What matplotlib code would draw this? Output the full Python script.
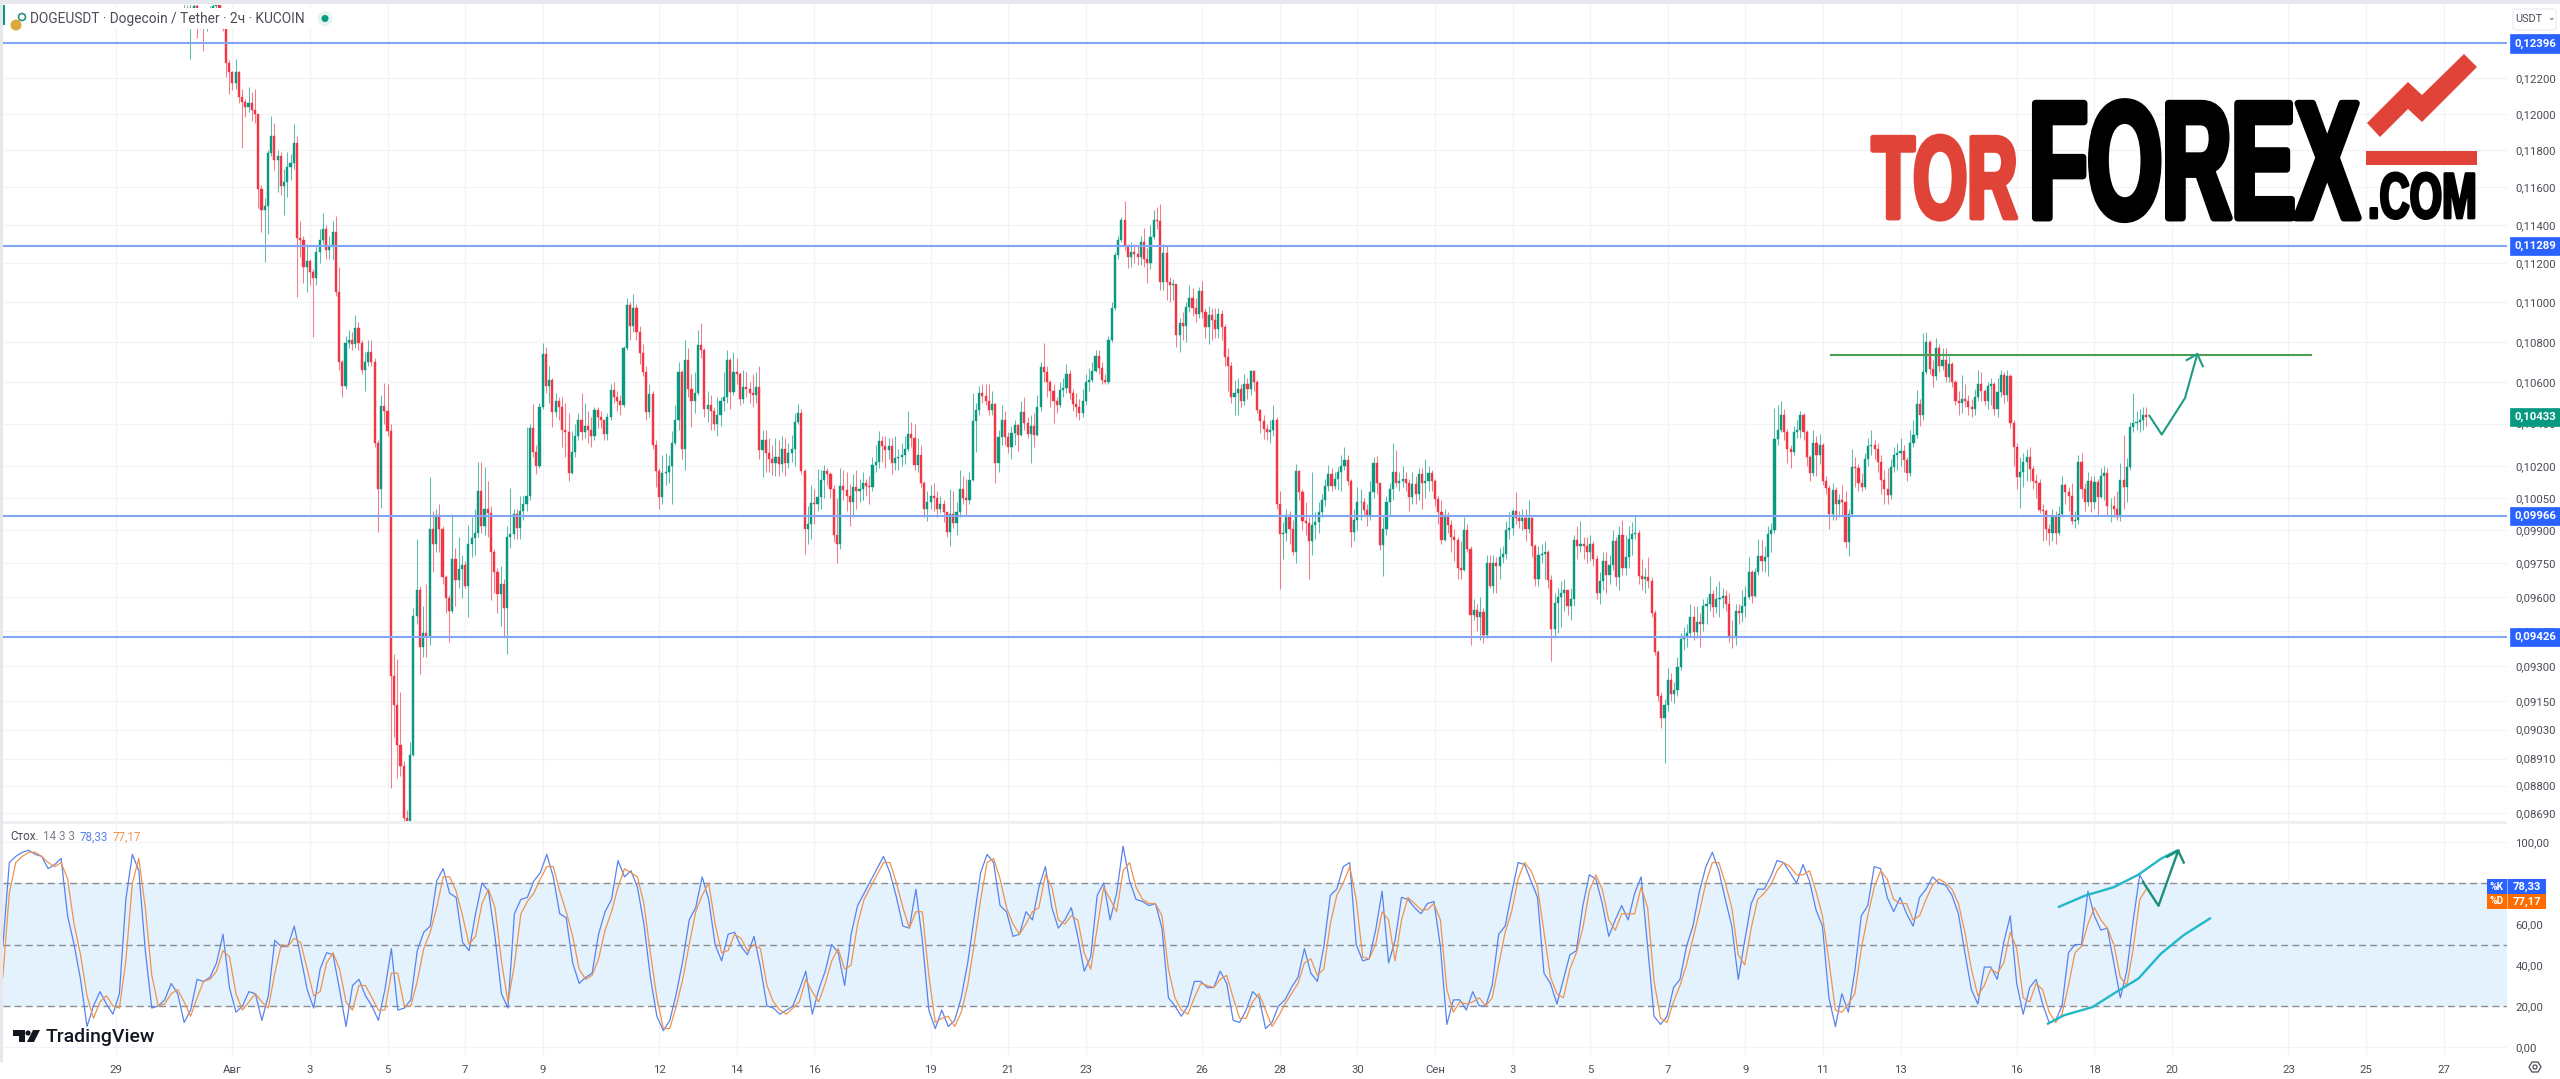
import numpy as np
import matplotlib
matplotlib.use("Agg")
import matplotlib.pyplot as plt
from matplotlib.patches import Rectangle, Polygon, Circle, FancyBboxPatch
from matplotlib.patheffects import AbstractPathEffect
from matplotlib.ticker import NullLocator
from matplotlib.transforms import Affine2D

plt.rcParams['font.family'] = ['Roboto', 'DejaVu Sans']

# prices in 1e-5 USDT, one value per 2h candle, first candle is number 21 from 29 Jul 00:00
first_candle = 21
first_open = 12560
closes = [
    12580,12540,12600,12610,12570,12550,12500,12530,12560,12610,
    12630,12590,12480,12285,12235,12170,12235,12095,12065,12035,
    12060,12020,12000,11590,11480,11500,11785,11880,11745,11770,
    11605,11630,11710,11730,11840,11330,11320,11180,11210,11155,
    11125,11260,11320,11380,11270,11290,11360,11050,10700,10585,
    10795,10810,10790,10870,10795,10660,10700,10750,10700,10310,
    10090,10485,10460,10365,9255,9135,8965,8880,8670,8640,
    8925,9518,9630,9380,9440,9425,9905,9840,9970,9905,
    9690,9595,9540,9770,9675,9725,9745,9650,9840,9865,
    9890,10080,9920,10000,9980,9800,9710,9615,9660,9550,
    9870,9885,9975,9910,9990,10020,10060,10380,10265,10200,
    10480,10740,10585,10610,10455,10510,10480,10370,10360,10165,
    10265,10340,10420,10360,10390,10370,10340,10465,10430,10420,
    10350,10430,10565,10530,10510,10490,10770,10985,10880,10970,
    10850,10745,10650,10455,10545,10300,10175,10055,10165,10170,
    10200,10310,10420,10650,10280,10710,10570,10510,10550,10785,
    10760,10470,10490,10460,10400,10440,10510,10530,10710,10555,
    10650,10640,10520,10580,10570,10550,10540,10580,10275,10320,
    10260,10230,10215,10240,10210,10280,10215,10260,10280,10410,
    10450,10175,9905,9930,10025,10020,10055,10135,10175,10160,
    10090,9880,9840,10105,10085,10060,10030,10100,10080,10090,
    10120,10105,10100,10205,10220,10315,10295,10275,10295,10215,
    10235,10240,10250,10280,10350,10330,10205,10250,10120,10000,
    10030,10060,10050,10000,10020,9985,9895,9975,9935,9985,
    10090,10050,10040,10135,10415,10465,10550,10535,10510,10465,
    10495,10215,10335,10420,10335,10290,10355,10395,10345,10455,
    10405,10350,10390,10345,10480,10675,10650,10600,10560,10510,
    10490,10565,10575,10640,10550,10495,10480,10450,10510,10600,
    10610,10655,10730,10670,10610,10600,10810,10970,11245,11320,
    11425,11290,11230,11260,11250,11230,11310,11220,11200,11335,
    11425,11420,11105,11255,11105,11090,11095,10835,10895,10880,
    10975,11020,10970,10940,11055,10950,10875,10935,10910,10865,
    10940,10875,10725,10680,10530,10550,10570,10510,10590,10570,
    10655,10600,10465,10415,10375,10360,10370,10420,10020,9885,
    9890,9970,9905,9800,10175,10075,9945,9935,9850,9925,
    9940,9985,10040,10105,10160,10105,10140,10170,10200,10225,
    10130,9895,9950,10030,10030,9995,9965,10075,10215,10120,
    9835,9905,10030,10090,10170,10120,10130,10140,10120,10055,
    10115,10070,10160,10120,10130,10165,10130,10045,9985,9855,
    9970,9925,9870,9855,9730,9720,9900,9815,9520,9545,
    9510,9535,9435,9750,9650,9750,9740,9780,9795,9900,
    9910,9990,9955,9945,9955,9905,9955,9830,9680,9790,
    9795,9800,9675,9460,9575,9600,9620,9630,9560,9590,
    9855,9830,9840,9830,9800,9840,9770,9620,9670,9760,
    9700,9745,9850,9690,9880,9730,9780,9860,9885,9890,
    9695,9680,9690,9670,9530,9360,9170,9080,9135,9240,
    9180,9195,9295,9415,9430,9440,9510,9445,9490,9480,
    9560,9570,9615,9555,9590,9595,9605,9570,9430,9420,
    9540,9530,9560,9600,9710,9605,9710,9785,9760,9780,
    9885,9900,10325,10370,10440,10360,10280,10265,10360,10370,
    10440,10360,10240,10165,10310,10250,10300,10130,10095,9975,
    10085,10020,10040,10030,9845,9975,10195,10190,10120,10100,
    10230,10295,10300,10280,10220,10135,10090,10065,10195,10250,
    10260,10270,10225,10165,10310,10345,10495,10440,10650,10800,
    10665,10630,10770,10680,10710,10625,10690,10600,10510,10500,
    10520,10510,10480,10470,10530,10590,10560,10510,10585,10590,
    10470,10555,10635,10540,10630,10405,10290,10145,10170,10220,
    10240,10185,10130,10120,9995,9990,9905,9890,9960,9890,
    9975,10110,10075,10060,9945,9950,10220,10090,10030,10130,
    10030,10125,10055,10150,10165,10010,10010,10000,9960,10135,
    10100,10195,10385,10405,10410,10420,10440,10433,
]
highs = [
    12640,12620,12640,12640,12630,12600,12580,12590,12610,12640,
    12660,12650,12600,12490,12300,12240,12310,12240,12140,12080,
    12150,12120,12140,12000,11610,11540,11800,11990,11950,11800,
    11790,11700,11790,11780,11945,11880,11420,11340,11300,11220,
    11170,11290,11380,11460,11400,11340,11420,11445,11180,10710,
    10830,10860,10850,10935,10900,10810,10750,10810,10810,10720,
    10320,10540,10595,10590,10400,9350,9330,9190,8900,8700,
    8980,9550,9860,9650,9560,9660,10145,9990,10000,10020,
    9920,9700,9610,9975,9820,9870,9790,9760,9925,9960,
    10000,10220,10220,10195,10130,10010,9815,9730,9740,9680,
    9920,10095,10000,10000,10060,10060,10385,10400,10495,10300,
    10500,10795,10775,10680,10620,10550,10530,10530,10500,10450,
    10365,10400,10450,10550,10500,10460,10430,10480,10480,10460,
    10420,10450,10590,10600,10560,10540,10780,11020,11000,11040,
    10990,10880,10790,10680,10590,10560,10320,10190,10250,10260,
    10250,10365,10490,10700,10660,10810,10770,10640,10650,10860,
    10895,10770,10560,10540,10480,10530,10530,10650,10760,10720,
    10750,10720,10650,10660,10650,10600,10640,10650,10680,10370,
    10370,10330,10300,10330,10320,10340,10330,10310,10345,10450,
    10495,10470,10185,10010,10110,10090,10185,10180,10205,10190,
    10170,10110,10050,10190,10180,10170,10115,10160,10180,10140,
    10170,10140,10150,10240,10300,10365,10340,10340,10330,10330,
    10340,10280,10310,10340,10460,10410,10400,10330,10300,10130,
    10080,10110,10120,10080,10060,10040,9985,10090,10080,10030,
    10180,10150,10140,10170,10550,10500,10585,10590,10590,10590,
    10560,10500,10370,10490,10460,10360,10390,10420,10400,10510,
    10530,10430,10440,10450,10540,10700,10795,10680,10610,10590,
    10530,10600,10620,10690,10660,10570,10550,10520,10570,10640,
    10670,10700,10760,10760,10700,10640,10830,11000,11260,11340,
    11440,11525,11300,11310,11300,11290,11340,11385,11280,11400,
    11480,11495,11510,11300,11290,11130,11120,11090,10920,10950,
    11000,11090,11070,11020,11080,11110,10970,10980,10970,10970,
    10970,10960,10890,10770,10700,10610,10620,10590,10640,10620,
    10660,10660,10610,10470,10440,10400,10420,10490,10430,10080,
    9940,10000,9990,9950,10210,10180,10090,10030,9960,10170,
    9985,10030,10070,10140,10205,10190,10170,10195,10250,10290,
    10250,10140,10000,10100,10090,10050,10020,10130,10240,10245,
    10120,9960,10060,10120,10310,10275,10170,10200,10170,10140,
    10170,10150,10190,10190,10230,10200,10180,10140,10060,10040,
    10000,9985,9950,9905,9870,9850,9960,9930,9830,9590,
    9570,9600,9550,9790,9790,9790,9780,9820,9830,9945,
    9985,10000,10075,9990,10000,10000,10040,9960,9840,9830,
    9840,9850,9810,9700,9620,9640,9670,9680,9620,9640,
    9880,9920,9945,9870,9870,9880,9850,9790,9710,9800,
    9800,9790,9900,9870,9920,9950,9880,9920,9940,9965,
    9900,9770,9730,9780,9690,9545,9370,9190,9160,9290,
    9270,9230,9340,9440,9470,9480,9570,9560,9560,9530,
    9590,9600,9695,9630,9650,9670,9640,9630,9620,9500,
    9570,9570,9630,9650,9780,9720,9730,9860,9855,9830,
    9920,9935,10475,10490,10510,10470,10375,10300,10390,10420,
    10460,10450,10370,10250,10370,10340,10350,10310,10150,10110,
    10120,10100,10070,10110,10080,10000,10280,10240,10210,10165,
    10260,10330,10370,10320,10310,10250,10180,10190,10230,10290,
    10310,10330,10300,10240,10370,10420,10565,10520,10845,10850,
    10810,10710,10820,10790,10770,10770,10730,10700,10610,10560,
    10635,10590,10540,10520,10570,10660,10650,10570,10600,10620,
    10600,10620,10660,10650,10660,10640,10420,10310,10240,10260,
    10280,10290,10200,10160,10140,10020,10000,9930,10000,9990,
    10010,10150,10120,10100,10120,9990,10250,10260,10120,10170,
    10150,10150,10140,10190,10200,10190,10050,10060,10080,10215,
    10345,10235,10410,10550,10460,10470,10480,10480,
]
lows = [
    12500,12480,12310,12500,12430,12480,12350,12470,12490,12500,
    12560,12540,12470,12205,12110,12130,12140,12060,11810,11980,
    12010,11960,11950,11490,11365,11207,11350,11770,11690,11575,
    11560,11450,11550,11640,11700,11025,11230,11100,11050,11090,
    10825,11090,11200,11300,11220,11220,11220,11030,10660,10530,
    10570,10770,10760,10770,10760,10640,10560,10680,10680,10290,
    9895,10005,10400,10340,8790,9000,8830,8840,8655,8620,
    8620,8920,9480,9265,9340,9340,9390,9710,9800,9800,
    9660,9530,9405,9530,9560,9640,9595,9640,9510,9780,
    9790,9870,9890,9880,9870,9585,9620,9530,9474,9420,
    9350,9820,9860,9860,9860,9950,9990,10040,10240,10160,
    10190,10470,10550,10500,10385,10430,10420,10290,10240,10130,
    10160,10240,10320,10320,10330,10310,10290,10320,10380,10380,
    10320,10320,10420,10500,10460,10440,10480,10760,10810,10850,
    10810,10690,10630,10420,10430,10280,10100,10000,10020,10110,
    10120,10020,10300,10370,10230,10180,10530,10385,10450,10540,
    10720,10430,10410,10370,10370,10340,10390,10460,10500,10470,
    10540,10590,10490,10500,10530,10500,10480,10500,10230,10145,
    10170,10170,10155,10150,10150,10170,10150,10190,10220,10200,
    10400,10160,9795,9840,9860,9930,9990,10000,10050,10110,
    10050,9845,9750,9815,10040,9990,9920,9960,10000,10030,
    10040,10060,10020,10080,10170,10190,10220,10190,10230,10160,
    10180,10180,10200,10210,10270,10290,10180,10170,10100,9960,
    9945,10000,9990,9960,9980,9940,9870,9830,9910,9880,
    9960,10020,9970,10020,10130,10265,10440,10500,10490,10440,
    10440,10120,10170,10300,10300,10260,10230,10300,10270,10340,
    10370,10330,10215,10290,10340,10460,10600,10530,10480,10405,
    10450,10480,10530,10550,10520,10460,10430,10420,10430,10490,
    10560,10600,10650,10640,10590,10590,10590,10800,10960,11220,
    11310,11270,11175,11180,11200,11190,11190,11180,11100,11170,
    11325,11380,11060,11060,11010,11000,11010,10775,10750,10810,
    10800,10950,10930,10900,10920,10920,10820,10790,10810,10820,
    10820,10810,10680,10560,10500,10440,10440,10480,10490,10520,
    10540,10560,10450,10355,10325,10320,10310,10340,10000,9635,
    9770,9850,9840,9790,9750,10040,9900,9880,9680,9790,
    9860,9890,9960,10010,10080,10080,10090,10090,10080,10180,
    10110,9825,9850,9900,9950,9970,9920,9950,10050,10070,
    9810,9695,9880,9970,10040,10100,10080,10100,10080,9990,
    10020,10020,10040,10000,10050,10080,10080,10010,9930,9840,
    9850,9890,9800,9760,9680,9680,9715,9800,9390,9500,
    9450,9410,9400,9420,9640,9620,9620,9680,9750,9770,
    9860,9880,9930,9910,9900,9850,9890,9780,9650,9650,
    9750,9680,9640,9320,9420,9440,9470,9540,9520,9500,
    9560,9770,9800,9770,9750,9760,9740,9590,9570,9630,
    9620,9660,9720,9650,9630,9700,9700,9730,9790,9860,
    9660,9630,9620,9640,9510,9345,9150,9035,8890,9110,
    9150,9140,9170,9280,9370,9380,9430,9410,9420,9380,
    9450,9480,9540,9510,9530,9510,9550,9540,9405,9375,
    9390,9480,9490,9510,9590,9575,9600,9700,9715,9710,
    9695,9800,9890,10300,10360,10320,10215,10190,10250,10330,
    10330,10320,10200,10130,10150,10150,10210,10110,10070,9905,
    9950,9950,9960,9960,9820,9785,9960,10100,10080,10080,
    10090,10200,10250,10230,10170,10070,10020,10020,10045,10170,
    10180,10200,10170,10130,10150,10290,10330,10390,10420,10640,
    10640,10580,10610,10650,10660,10600,10600,10580,10490,10440,
    10450,10480,10440,10430,10440,10510,10510,10490,10470,10490,
    10440,10430,10530,10500,10510,10380,10200,10090,10005,10100,
    10130,10130,10090,10050,9980,9850,9855,9835,9850,9840,
    9880,9960,10020,9990,9930,9910,9930,10050,9990,10010,
    9985,10000,9970,10050,10040,9970,9940,9960,9950,9945,
    10000,10030,10180,10360,10370,10360,10370,10390,
]

# stochastic, read about every second candle from the left edge to the last candle
pct_k = [
    49,90,93,95,96,94,93,87,89,92,
    64,50,33,10,20,27,21,16,26,72,
    94,86,47,19,20,23,31,26,12,18,
    33,32,34,41,55,29,17,20,27,26,
    13,25,52,49,49,59,44,28,19,38,
    46,45,28,10,30,33,25,20,13,28,
    48,18,19,23,47,56,59,81,87,75,
    73,51,47,65,80,76,54,26,19,65,
    72,73,81,85,94,83,65,63,41,31,
    34,36,55,66,72,91,83,86,78,
    60,34,15,8,13,26,42,62,68,83,
    72,50,42,55,56,49,45,54,39,20,
    19,16,18,20,28,37,16,28,37,50,
    46,30,55,69,75,81,87,93,85,73,
    59,58,77,52,18,9,18,10,13,24,
    41,63,85,94,90,69,66,54,55,66,
    62,78,88,68,58,62,68,54,37,44,
    74,80,62,75,98,81,72,
    71,69,70,58,24,20,15,20,32,32,
    29,29,37,31,13,12,18,27,24,9,
    12,20,23,29,34,48,36,32,49,74,
    77,88,90,50,42,43,57,76,41,52,
    73,72,68,65,70,71,49,11,23,23,
    18,27,20,20,30,55,59,75,90,89,
    81,73,36,31,21,33,45,47,69,84,
    82,70,54,62,69,62,75,83,49,15,
    11,
    15,29,33,49,59,76,88,95,86,72,
    59,33,52,70,77,77,83,91,90,85,
    80,89,81,67,59,24,10,26,17,37,
    64,69,88,87,73,66,73,65,59,73,
    77,83,80,79,74,65,46,28,21,39,
    39,33,51,64,31,16,29,33,21,12,
    13,20,46,50,50,76,64,57,58,41,
    24,37,62,84,78,
]
pct_d = [
    34,75,90,93,95,95,93,90,88,90,
    82,60,45,25,14,22,25,20,19,42,
    80,92,68,35,20,21,26,28,22,15,
    24,32,33,37,47,44,26,18,22,26,
    22,19,36,50,49,53,51,38,25,27,
    41,46,38,22,18,30,30,24,18,18,
    36,36,20,20,32,48,56,68,83,83,
    76,64,50,54,70,77,68,42,22,40,
    65,71,75,82,88,88,76,66,54,38,
    33,35,43,57,66,78,87,85,83,
    70,46,24,9,9,20,33,50,66,74,
    80,60,46,47,55,53,47,50,48,30,
    22,18,16,19,22,33,27,22,31,42,
    48,38,40,60,72,78,84,90,90,80,
    68,58,66,66,35,12,14,15,10,17,
    30,50,72,90,92,82,68,60,55,60,
    66,68,84,78,62,60,64,62,46,38,
    58,78,72,66,86,90,78,
    72,70,70,64,38,24,18,16,24,31,
    30,29,33,35,24,14,14,22,26,18,
    10,15,21,26,31,41,43,35,38,60,
    74,80,88,72,44,43,50,66,62,42,
    62,73,70,67,67,70,62,28,17,22,
    21,22,24,20,24,40,56,66,82,90,
    86,78,56,34,26,24,38,46,58,76,
    84,77,62,57,65,65,65,78,68,32,
    14,
    12,22,30,40,53,66,80,90,90,80,
    68,45,40,58,72,75,79,86,90,88,
    84,84,86,76,64,42,18,17,21,26,
    48,64,78,86,82,72,70,70,62,64,
    72,79,82,80,77,70,56,38,25,30,
    38,36,41,56,48,24,22,31,28,17,
    12,16,30,46,49,60,68,62,58,50,
    34,30,48,72,77,
]

price_ticks = [0.12200, 0.12000, 0.11800, 0.11600, 0.11400, 0.11200, 0.11000, 0.10800, 0.10600,
               0.10400, 0.10200, 0.10050, 0.09900, 0.09750, 0.09600, 0.09450, 0.09300, 0.09150,
               0.09030, 0.08910, 0.08800, 0.08690]
stoch_ticks = [100, 60, 40, 20, 0]
level_prices = [0.12396, 0.11289, 0.09966, 0.09426]
last_price = 0.10433
resistance_price = 0.10735
resistance_span = [530.5, 679]

# tick labels sit on days counted from 29 Jul
tick_days = [0, 3, 5, 7, 9, 11, 14, 16, 18, 21, 23, 25, 28, 30, 32, 34, 36, 38, 40, 42, 44, 46,
             49, 51, 53, 56, 58, 60]
tick_names = ['29', 'Авг', '3', '5', '7', '9', '12', '14', '16', '19', '21', '23', '26', '28', '30',
              'Сен', '3', '5', '7', '9', '11', '13', '16', '18', '20', '23', '25', '27']

# hand drawn lines, in candle number and price or stochastic value
arrow_x = [629, 632.8, 640, 643.8]
arrow_y = [0.10438, 0.10348, 0.10524, 0.10740]
arrow_head_x = [640.5, 643.8, 645.5]
arrow_head_y = [0.10710, 0.10740, 0.10680]
upper_x = [601, 609, 618, 625.5, 632.7, 637.5]
upper_y = [68.4, 73.8, 78, 84, 92, 95.8]
lower_x = [597.6, 602.6, 611.4, 618.4, 625.6, 632.6, 639.6, 647.7]
lower_y = [11.4, 15.5, 19.5, 26.5, 33.4, 45.6, 54.6, 62.7]
stoch_arrow_x = [627, 631.8, 637.9]
stoch_arrow_y = [80.6, 68.9, 95.8]
stoch_head_x = [634.5, 637.9, 639.6]
stoch_head_y = [92.8, 95.8, 90]

UP = '#089981'
DOWN = '#f23645'
GRID = '#f1f3f8'
LEVEL = '#82a6f4'
TAG = '#2962ff'
TEXT = '#4a4d57'
LOGO_RED = '#e04438'
W, H = 2560, 1079


def pane(left, top, right, bottom):
    return [left / W, 1 - bottom / H, (right - left) / W, (bottom - top) / H]


class Tall(AbstractPathEffect):
    # stretches a text upward and thickens it, for the heavy narrow logo letters
    def __init__(self, sy, lw):
        super().__init__()
        self.sy = sy
        self.lw = lw

    def draw_path(self, renderer, gc, tpath, affine, rgbFace=None):
        gc0 = renderer.new_gc()
        gc0.copy_properties(gc)
        gc0.set_linewidth(self.lw)
        gc0.set_foreground(rgbFace)
        renderer.draw_path(gc0, tpath, Affine2D().scale(1, self.sy) + affine, rgbFace)
        gc0.restore()


fig = plt.figure(figsize=(W / 100, H / 100), dpi=100, facecolor='white')
ax = fig.add_axes(pane(3, 5, 2507, 822))
ax2 = fig.add_axes(pane(3, 824, 2507, 1055), sharex=ax)

xlim = (-34.95, 739.6)
tick_pos = [d * 12 for d in tick_days]

for a in (ax, ax2):
    a.set_xlim(xlim)
    for s in a.spines.values():
        s.set_visible(False)
    a.set_axisbelow(True)
    a.yaxis.tick_right()
    a.tick_params(axis='both', length=0, labelsize=8.2, labelcolor=TEXT)
    a.tick_params(axis='y', pad=6)
    a.grid(True, color=GRID, lw=0.9)

# price pane
n = min(len(closes), len(highs), len(lows))
xs = first_candle + np.arange(n)
c = np.array(closes[:n]) * 1e-5
o = np.r_[first_open * 1e-5, c[:-1]]
hi = np.maximum(np.array(highs[:n]) * 1e-5, np.maximum(o, c))
lo = np.minimum(np.array(lows[:n]) * 1e-5, np.minimum(o, c))
colors = [UP if b >= a else DOWN for a, b in zip(o, c)]

ax.set_yscale('log')
ax.set_ylim(0.08653, 0.12618)
ax.yaxis.set_minor_locator(NullLocator())
ax.set_yticks(price_ticks, [f'{t:.5f}'.replace('.', ',') for t in price_ticks])
ax.tick_params(axis='x', labelbottom=False)

ax.vlines(xs, lo, hi, colors=colors, lw=0.75, alpha=0.65, zorder=3)
ax.bar(xs, np.abs(c - o), bottom=np.minimum(o, c), width=0.66, color=colors, lw=0.3,
       edgecolor=colors, zorder=4)

for p in level_prices:
    ax.axhline(p, color=LEVEL, lw=1.5, zorder=5)
ax.plot(resistance_span, [resistance_price] * 2, color='#4c9e52', lw=1.5, zorder=5)
ax.plot(arrow_x, arrow_y, color='#1c9c84', lw=1.5, zorder=6)
ax.plot(arrow_head_x, arrow_head_y, color='#1c9c84', lw=1.5, zorder=6)


def price_tag(axis, value, text, color):
    axis.annotate(text, xy=(1, value), xycoords=axis.get_yaxis_transform(),
                  xytext=(5.3, 0), textcoords='offset points', va='center', ha='left',
                  fontsize=8.2, fontweight='bold', color='white', annotation_clip=False, zorder=20,
                  bbox=dict(boxstyle='square,pad=0.35', fc=color, ec=color, lw=0.5))


for p in level_prices:
    price_tag(ax, p, f'{p:.5f}'.replace('.', ','), TAG)
price_tag(ax, last_price, f'{last_price:.5f}'.replace('.', ','), UP)

# stochastic pane
sx = np.linspace(-35, 628, len(pct_k))
ax2.set_ylim(-3.9, 108.8)
ax2.set_yticks(stoch_ticks, [f'{t:.2f}'.replace('.', ',') for t in stoch_ticks])
ax2.set_xticks(tick_pos, tick_names)
ax2.tick_params(axis='x', pad=7)
ax2.axhspan(20, 80, color='#e3f2fd', lw=0, zorder=1)
for lev in (80, 50, 20):
    ax2.axhline(lev, color='#8a8d96', lw=1.0, dashes=(5, 3), zorder=2)
ax2.plot(sx, pct_k, color='#5a83ec', lw=0.9, zorder=4)
ax2.plot(np.linspace(-35, 628, len(pct_d)), pct_d, color='#f0934f', lw=0.9, zorder=5)
ax2.plot(upper_x, upper_y, color='#22b8c8', lw=1.7, zorder=6)
ax2.plot(lower_x, lower_y, color='#22b8c8', lw=1.7, zorder=6)
ax2.plot(stoch_arrow_x, stoch_arrow_y, color='#1c8f78', lw=1.7, zorder=7)
ax2.plot(stoch_head_x, stoch_head_y, color='#1c8f78', lw=1.7, zorder=7)

# everything below is placed in screen pixels: frame, legends, logo
top = fig.add_axes([0, 0, 1, 1], zorder=10)
top.set_xlim(0, W)
top.set_ylim(H, 0)
top.axis('off')
top.patch.set_alpha(0)

top.add_patch(Rectangle((0, 0), W, 4, fc='#e6e8ee', lw=0))
top.add_patch(Rectangle((0, 0), 2.5, 1062, fc='#e6e8ee', lw=0))
top.add_patch(Rectangle((3, 821), 2504, 3, fc='#eef0f4', lw=0))

# legend of the price pane hides the candles behind it
top.add_patch(Rectangle((3, 8), 335, 21, fc='white', lw=0))
top.add_patch(Rectangle((2.5, 5), 2, 20, fc=UP, lw=0))
top.add_patch(Circle((16, 25), 5.5, fc='#d9a93a', lw=0))
top.add_patch(Circle((22, 17), 3.5, fc='white', ec='#2b8f80', lw=1.2))
top.text(29.5, 18.5, 'DOGEUSDT · Dogecoin / Tether · 2ч · KUCOIN', fontsize=9.9, color='#4a4d57',
         va='center', ha='left')
top.add_patch(Circle((325, 18.5), 7.5, fc='#e4f4f0', lw=0))
top.add_patch(Circle((325, 18.5), 3.5, fc=UP, lw=0))

# currency box
top.add_patch(FancyBboxPatch((2513, 9), 43, 21, boxstyle='round,pad=0,rounding_size=3', fc='white',
                             ec='#e8eaf0', lw=0.8))
top.text(2515, 19, 'USDT', fontsize=7.8, color=TEXT, va='center', ha='left')
top.text(2551, 18, '⌄', fontsize=6.5, color=TEXT, va='center', ha='center', family='DejaVu Sans')

# stochastic legend and value tags
top.text(10, 837, 'Стох.', fontsize=8.4, color=TEXT, va='center', ha='left')
top.text(43, 837, '14 3 3', fontsize=8.4, color='#7d808a', va='center', ha='left')
top.text(80, 837, '78,33', fontsize=8.4, color='#5a83ec', va='center', ha='left')
top.text(113, 837, '77,17', fontsize=8.4, color='#f0934f', va='center', ha='left')
top.add_patch(Rectangle((2487, 879), 59, 15, fc=TAG, lw=0))
top.add_patch(Rectangle((2487, 894), 59, 15, fc='#ff6d00', lw=0))
top.add_patch(Rectangle((2507, 879), 1, 30, fc='white', lw=0, alpha=0.5))
for y, name, val in ((886.5, '%K', '78,33'), (901.5, '%D', '77,17')):
    top.text(2497, y, name, fontsize=7.4, fontweight='bold', color='white', va='center', ha='center')
    top.text(2527, y, val, fontsize=8.0, fontweight='bold', color='white', va='center', ha='center')

# chart settings button
top.add_patch(Polygon([(2529, 1067), (2532, 1062), (2538, 1062), (2541, 1067), (2538, 1072),
                       (2532, 1072)], fc='white', ec=TEXT, lw=0.9))
top.add_patch(Circle((2535, 1067), 2, fc='white', ec=TEXT, lw=0.9))

# TradingView mark
top.add_patch(Polygon([(13, 1030), (25, 1030), (25, 1042), (19, 1042), (19, 1036), (13, 1036)],
                      fc='#131722', lw=0))
top.add_patch(Circle((28, 1033), 2.6, fc='#131722', lw=0))
top.add_patch(Polygon([(33, 1030), (40, 1030), (34, 1042), (27, 1042)], fc='#131722', lw=0))
top.text(45.5, 1037, 'TradingView', fontsize=14, fontweight='medium', color='#131722',
         va='center', ha='left')

# logo, the fonts are sized for the width and stretched up to the logo's height
top.add_patch(Rectangle((2366, 151), 111, 14, fc=LOGO_RED, lw=0))
top.add_patch(Polygon([(2367, 123), (2408, 82), (2422, 95), (2464, 54), (2477, 67), (2422, 122),
                       (2408, 109), (2380, 137)], fc=LOGO_RED, lw=0))
top.text(1872, 218, 'TOR', fontsize=50, fontweight='bold', color=LOGO_RED, va='baseline', ha='left',
         path_effects=[Tall(1.69, 3.5)], family='Liberation Sans')
top.text(2029, 218, 'FOREX', fontsize=69, fontweight='bold', color='black', va='baseline', ha='left',
         path_effects=[Tall(1.74, 5)], family='Liberation Sans')
top.text(2368, 218, '.COM', fontsize=30, fontweight='bold', color='black', va='baseline', ha='left',
         path_effects=[Tall(1.55, 2)], family='Liberation Sans')

print(len(closes), len(highs), len(lows), len(pct_k), len(pct_d))
fig.savefig('out.png', dpi=100)
